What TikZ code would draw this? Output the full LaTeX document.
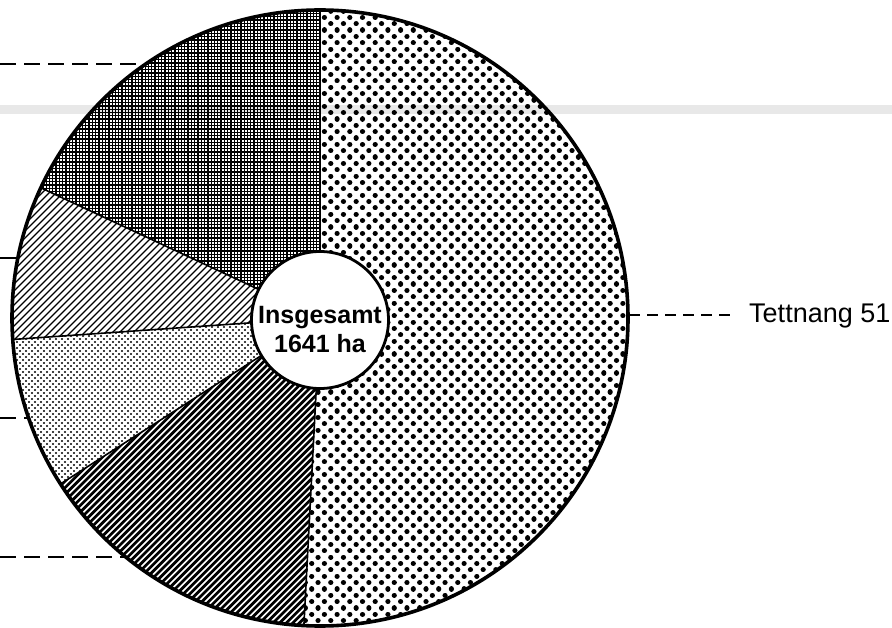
\documentclass[tikz,border=0pt]{standalone}
\usepackage{fontspec}
\newfontfamily\helv{Liberation Sans}
\begin{document}
\begin{tikzpicture}[x=1pt,y=1pt,
  rim/.style={line width=3.6pt},
  radial/.style={line width=1.6pt},
  leader/.style={line width=1.1pt, dash pattern=on 11pt off 7pt},
  longleader/.style={line width=1.1pt, dash pattern=on 16pt off 8pt},
  bigdot/.style={line width=5.2pt, line cap=round, dash pattern=on 0.01pt off 12.69pt},
  smalldot/.style={line width=2.3pt, line cap=round, dash pattern=on 0.01pt off 5.99pt},
  mesh/.style={line width=1.3pt},
  thinhatch/.style={line width=1.1pt},
  thickhatch/.style={line width=2.7pt}]
\useasboundingbox (0,0) rectangle (892,627);
\coordinate (C) at (320,309);
\def\R{308}

% Tettnang: large dots
\begin{scope}
\clip (C) -- ++(-93:\R) arc[start angle=-93,end angle=90,radius=\R] -- cycle;
\foreach \j in {0,...,100} {
  \pgfmathsetmacro{\yy}{\j*6.35}
  \pgfmathsetmacro{\xx}{299+mod(\j,2)*6.35}
  \draw[bigdot] (\xx,\yy) -- (645,\yy);
}
\end{scope}

% checkered mesh
\begin{scope}
\clip (C) -- ++(90:\R) arc[start angle=90,end angle=155,radius=\R] -- cycle;
\draw[mesh] \foreach \k in {0,...,100} { (\k*3.3,300) -- (\k*3.3,630) };
\draw[mesh] \foreach \k in {0,...,100} { (0,300+\k*3.3) -- (330,300+\k*3.3) };
\end{scope}

% light hatch
\begin{scope}
\clip (C) -- ++(155:\R) arc[start angle=155,end angle=184,radius=\R] -- cycle;
\draw[thinhatch] \foreach \k in {-23,...,47} { (\k*7,280) -- ++(175,175) };
\end{scope}

% light dots
\begin{scope}
\clip (C) -- ++(184:\R) arc[start angle=184,end angle=212.6,radius=\R] -- cycle;
\foreach \j in {0,...,66} {
  \pgfmathsetmacro{\yy}{138+\j*3}
  \pgfmathsetmacro{\xx}{8+mod(\j,2)*3}
  \draw[smalldot] (\xx,\yy) -- (280,\yy);
}
\end{scope}

% dark hatch
\begin{scope}
\clip (C) -- ++(212.6:\R) arc[start angle=212.6,end angle=267,radius=\R] -- cycle;
\draw[thickhatch] \foreach \k in {-40,...,51} { (\k*6.6,-5) -- ++(335,335) };
\end{scope}

% boundaries
\foreach \a in {90,155,184,212.6,267} { \draw[radial] (C) -- ++(\a:\R); }
\draw[rim] (C) circle[radius=\R];

% centre
\node[circle, draw, fill=white, line width=2.8pt, minimum size=137pt, inner sep=0pt] (inner) at (320,307) {};
\node[anchor=base, inner sep=0pt, font=\helv\bfseries\fontsize{25}{28}\selectfont] (l1) at (320,303) {Insgesamt};
\node[anchor=base, inner sep=0pt, font=\helv\bfseries\fontsize{25}{28}\selectfont] (l2) at (320,274) {1641 ha};

% leaders
\coordinate (a0) at (0,563);   \coordinate (a1) at (146,563);
\coordinate (b0) at (0,369);   \coordinate (b1) at (18,369);
\coordinate (c0) at (0,209);   \coordinate (c1) at (29,209);
\coordinate (d0) at (0,70);    \coordinate (d1) at (126,70);
\draw[longleader] (a0) -- (a1);
\draw[longleader] (b0) -- (b1);
\draw[longleader] (c0) -- (c1);
\draw[longleader] (d0) -- (d1);

\node[anchor=base west, inner sep=0pt, font=\helv\fontsize{27}{30}\selectfont] (tett) at (749,304) {Tettnang 51};
\coordinate (r0) at (629,312); \coordinate (r1) at (737,312);
\draw[leader] (r0) -- (r1);

% scan band
\fill[black, opacity=0.09] (0,513) rectangle (892,522);
\end{tikzpicture}
\end{document}
